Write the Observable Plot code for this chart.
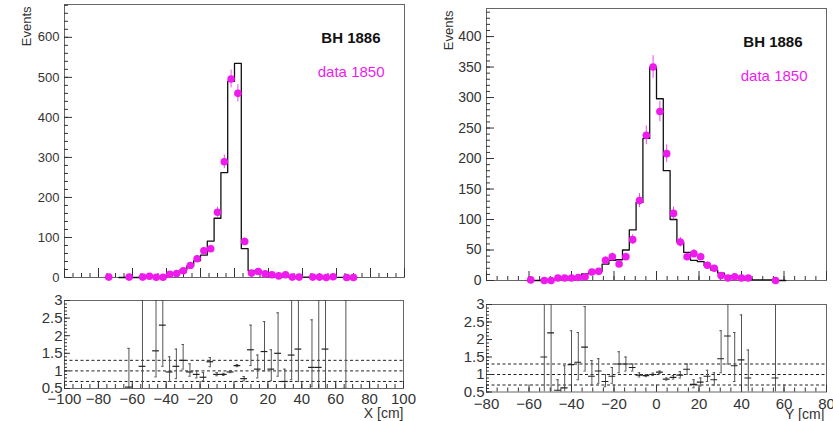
<!DOCTYPE html>
<html><head><meta charset="utf-8">
<script src="https://cdn.jsdelivr.net/npm/d3@7"></script>
<script src="https://cdn.jsdelivr.net/npm/@observablehq/plot@0.6"></script>
<style>
body{margin:0;background:#fff;}
#root{position:relative;width:833px;height:421px;overflow:hidden;background:#fff;}
#root > div{position:absolute;}
svg{overflow:visible;}
</style></head><body><div id="root"></div>
<script>
// ---------- LEFT (X) ----------
const xDataCenters = [-74,-62,-54,-50,-46,-42,-38,-34,-30,-26,-22,-18,-14,-10,-6,-2,2,6,10,14,18,22,26,30,34,38,46,50,54,58,66,70];
const xDataValues  = [1,1,1,3,0.5,0.5,8,10,17,30,47,67,72,163,289,496,460,90,11,15,9,7,4,7,1,1,1,1,0,2,0,0];
const xMcCenters = [-66,-62,-58,-54,-50,-46,-42,-38,-34,-30,-26,-22,-18,-14,-10,-6,-2,2,6,10,14,18,22,26,30,34,38,42,46,50,54,58,62,66,70];
const xMcValues  = [0,0.5,0,1.2,2,1,1,8,11,20,29,42,56,91,148,262,490,535,72,17,15,13,8,6,5,2,2,1,1.5,1.2,1,1,0.5,0.5,0];
const xRatioCenters = [-62,-54,-46,-42,-38,-34,-30,-26,-22,-18,-14,-10,-6,-2,2,6,10,14,18,22,26,30,34,38,46,50,54,66];
const xRatioValues  = [0.54,1.13,1.57,2.3,0.97,1.13,1.3,0.97,0.9,0.82,1.26,0.9,0.9,0.97,1.15,0.78,1.6,1.05,1.55,1.05,1.5,0.7,1.45,1.62,1.1,1.1,1.62,0.5];
const xRatioLow     = [0.5,0.5,0.83,1.13,0.7,0.78,1.05,0.85,0.8,0.72,1.12,0.86,0.87,0.95,1.12,0.72,1.15,0.8,1.0,0.72,0.85,0.5,0.75,0.7,0.55,0.5,0.5,0.5];
const xRatioHigh    = [1.64,3,3,3,1.4,1.62,1.75,1.2,1.0,0.95,1.38,0.95,0.93,1.0,1.18,0.84,2.3,1.45,2.4,1.6,2.65,1.05,3,3,2.45,3,3,3];
const xBinWidth = 4;

// ---------- RIGHT (Y) ----------
const yDataCenters = [-59.2,-52.8,-49.6,-46.4,-43.2,-40,-36.8,-33.6,-30.4,-27.2,-24,-20.8,-17.6,-14.4,-11.2,-8,-4.8,-1.6,1.6,4.8,8,11.2,14.4,17.6,20.8,24,27.2,30.4,33.6,36.8,40,43.2,56];
const yDataValues  = [1,0,0,4,4,4,5,6,14,15,33,39,27,39,67,131,238,350,277,208,110,63,39,44,39,25,20,8,4,6,4,4,0];
const yMcCenters = [-59.2,-56,-52.8,-49.6,-46.4,-43.2,-40,-36.8,-33.6,-30.4,-27.2,-24,-20.8,-17.6,-14.4,-11.2,-8,-4.8,-1.6,1.6,4.8,8,11.2,14.4,17.6,20.8,24,27.2,30.4,33.6,36.8,40,43.2,46.4,49.6,52.8,56,59.2];
const yMcValues  = [0,0,1,2,2,2.5,5,6.5,11,13,15,27,33,34,50,83,128,233,350,298,180,100,63,46,33,31,24,17,12,8,7,5.5,3.5,1,1,1,0.5,0];
const yRatioCenters = [-52.8,-49.6,-46.4,-43.2,-40,-36.8,-33.6,-30.4,-27.2,-24,-20.8,-17.6,-14.4,-11.2,-8,-4.8,-1.6,1.6,4.8,8,11.2,14.4,17.6,20.8,24,27.2,30.4,33.6,36.8,40,43.2,56];
const yRatioValues  = [1.5,2.19,0.55,0.62,1.28,1.35,1.78,0.95,1.1,0.8,0.95,1.3,1.3,1.2,0.98,0.97,1.0,1.07,0.87,0.92,0.98,1.15,0.72,0.78,0.95,0.85,1.45,2.1,1.25,1.42,0.9,0.9];
const yRatioLow     = [0.5,0.5,0.5,0.5,0.5,0.85,1.1,0.7,0.75,0.65,0.75,1.05,1.1,1.1,0.93,0.94,0.97,1.03,0.84,0.87,0.9,1.0,0.62,0.67,0.8,0.7,1.05,1.3,0.8,0.5,0.5,0.5];
const yRatioHigh    = [3,3,0.85,1.25,2.25,2.2,2.94,1.4,1.45,1.0,1.2,1.65,1.5,1.3,1.05,1.0,1.04,1.1,0.9,0.97,1.08,1.3,0.85,0.9,1.12,1.05,2.25,3,2.2,2.7,1.7,3];
const yBinWidth = 3.2;

// labels / guides
const legendMc = "BH 1886";
const legendData = "data 1850";
const yTitle = "Events";
const xTitleLeft = "X [cm]";
const xTitleRight = "Y [cm]";
const ratioGuides = [0.7, 1, 1.3];
const ratioTicks = [0.5, 1, 1.5, 2, 2.5, 3];

const FONT = "Liberation Sans, Arial, Helvetica, sans-serif";
const MAG = "#ee1aee";
const INK = "#222";

function stepTable(centers, vals, w) {
  const pts = [{x: centers[0] - w / 2, y: 0}];
  centers.forEach((c, i) => { pts.push({x: c - w / 2, y: vals[i]}); pts.push({x: c + w / 2, y: vals[i]}); });
  pts.push({x: centers[centers.length - 1] + w / 2, y: 0});
  return pts;
}
function place(el, left, top) {
  const d = document.createElement("div");
  d.style.left = left + "px"; d.style.top = top + "px";
  d.appendChild(el); document.getElementById("root").appendChild(d);
}

function topPanel(o) {
  const dataT = o.dc.map((c, i) => ({x: c, v: o.dv[i]}));
  return Plot.plot({
    width: o.width, height: o.height,
    marginLeft: o.ml, marginRight: o.mr, marginTop: o.mt, marginBottom: o.mb,
    x: {domain: o.xDomain}, y: {domain: o.yDomain},
    style: {fontFamily: FONT, background: "transparent", color: INK, overflow: "visible"},
    marks: [
      Plot.frame({stroke: "#666"}),
      Plot.axisX(o.xMinor, {tickSize: -4, tickFormat: () => "", label: null, stroke: "#333"}),
      Plot.axisX(o.xMajor, {tickSize: -9, tickFormat: () => "", label: null, stroke: "#333"}),
      Plot.axisY(o.yMinor, {tickSize: -4, tickFormat: () => "", label: null, stroke: "#333"}),
      Plot.axisY(o.yMajor, {tickSize: -8, tickFormat: () => "", label: null, stroke: "#333"}),
      Plot.axisY(o.yMajor, {tickSize: 0, tickPadding: 5, fontSize: o.fs, label: null, fill: "#333", tickFormat: d => String(d)}),
      Plot.line(stepTable(o.mc, o.mv, o.w), {x: "x", y: "y", stroke: "#111", strokeWidth: 1.3}),
      Plot.ruleX(dataT, {x: "x", y1: d => d.v - Math.sqrt(d.v), y2: d => d.v + Math.sqrt(d.v), stroke: MAG, strokeWidth: 1, strokeOpacity: 0.8}),
      Plot.dot(dataT, {x: "x", y: "v", r: 3.8, fill: MAG, stroke: null}),
      Plot.text([legendMc], {frameAnchor: "top-right", textAnchor: "end", lineAnchor: "middle", dx: -24, dy: o.bdy, fontSize: 15, fontWeight: "bold", fill: "#111"}),
      Plot.text([legendData], {frameAnchor: "top-right", textAnchor: "end", lineAnchor: "middle", dx: o.ddx, dy: o.bdy + 34, fontSize: 15, fill: MAG}),
      Plot.text([yTitle], {frameAnchor: "top-left", textAnchor: "end", lineAnchor: "middle", rotate: -90, dx: o.tdx, dy: o.tdy, fontSize: 13, fill: "#333"})
    ]
  });
}

function ratioPanel(o) {
  const t = o.rc.map((c, i) => ({x: c, r: o.rv[i], lo: o.rl[i], hi: o.rh[i]}));
  const hw = o.w / 2, cw = o.w * 0.18;
  return Plot.plot({
    width: o.width, height: o.height,
    marginLeft: o.ml, marginRight: o.mr, marginTop: o.mt, marginBottom: o.mb,
    x: {domain: o.xDomain}, y: {domain: [0.5, 3]},
    style: {fontFamily: FONT, background: "transparent", color: INK, overflow: "visible"},
    marks: [
      Plot.frame({stroke: "#666"}),
      Plot.ruleY(ratioGuides, {stroke: "#222", strokeDasharray: "3,2.5", strokeWidth: 1}),
      Plot.ruleX(t, {x: "x", y1: "lo", y2: "hi", stroke: "#555", strokeWidth: 1, clip: true}),
      Plot.ruleY(t, {y: "r", x1: d => d.x - hw, x2: d => d.x + hw, stroke: "#222", strokeWidth: 1.2, clip: true}),
      Plot.ruleY(t, {y: "lo", x1: d => d.x - cw, x2: d => d.x + cw, stroke: "#555", clip: true}),
      Plot.ruleY(t, {y: "hi", x1: d => d.x - cw, x2: d => d.x + cw, stroke: "#555", clip: true}),
      Plot.axisX(o.xMinor, {tickSize: -4, tickFormat: () => "", label: null, stroke: "#333"}),
      Plot.axisX(o.xMajor, {tickSize: -7, tickFormat: () => "", label: null, stroke: "#333"}),
      Plot.axisX(o.xMajor, {tickSize: 0, tickPadding: o.xpad, fontSize: 15, label: null, fill: "#333"}),
      Plot.axisY(d3.range(0.5, 3.01, 0.1), {tickSize: -3, tickFormat: () => "", label: null, stroke: "#333"}),
      Plot.axisY(ratioTicks, {tickSize: -6, tickFormat: () => "", label: null, stroke: "#333"}),
      Plot.axisY(ratioTicks, {tickSize: 0, tickPadding: 2, fontSize: 15, label: null, fill: "#333", tickFormat: d => String(d)}),
      Plot.text([o.title], {frameAnchor: "bottom-right", textAnchor: "end", lineAnchor: "middle", dx: o.tdx, dy: o.tdy, fontSize: 14, fill: "#333"})
    ]
  });
}

place(topPanel({
  width: 420, height: 290, ml: 64, mr: 16, mt: 4, mb: 13,
  xDomain: [-100, 100], yDomain: [0, 682],
  xMajor: d3.range(-100, 101, 20), xMinor: d3.range(-100, 101, 5),
  yMajor: d3.range(0, 601, 100), yMinor: d3.range(0, 681, 20),
  dc: xDataCenters, dv: xDataValues, mc: xMcCenters, mv: xMcValues, w: xBinWidth,
  fs: 13, ddx: -20, tdx: -38, tdy: 2, bdy: 34
}), 0, 0);

place(ratioPanel({
  width: 420, height: 131, ml: 64, mr: 17, mt: 10, mb: 33,
  xDomain: [-100, 100], xMajor: d3.range(-100, 101, 20), xMinor: d3.range(-100, 101, 5),
  rc: xRatioCenters, rv: xRatioValues, rl: xRatioLow, rh: xRatioHigh, w: xBinWidth,
  xpad: 5, title: xTitleLeft, tdx: 0, tdy: 25
}), 0, 290);

place(topPanel({
  width: 413, height: 290, ml: 66, mr: 7, mt: 8, mb: 10,
  xDomain: [-80, 80], yDomain: [0, 446],
  xMajor: d3.range(-80, 81, 20), xMinor: d3.range(-80, 81, 5),
  yMajor: d3.range(0, 401, 50), yMinor: d3.range(0, 441, 10),
  dc: yDataCenters, dv: yDataValues, mc: yMcCenters, mv: yMcValues, w: yBinWidth,
  fs: 14, ddx: -19, tdx: -38, tdy: 2, bdy: 34
}), 420, 0);

place(ratioPanel({
  width: 413, height: 131, ml: 66, mr: 7, mt: 14, mb: 29.5,
  xDomain: [-80, 80], xMajor: d3.range(-80, 81, 20), xMinor: d3.range(-80, 81, 5),
  rc: yRatioCenters, rv: yRatioValues, rl: yRatioLow, rh: yRatioHigh, w: yBinWidth,
  xpad: 6, title: xTitleRight, tdx: -2, tdy: 23
}), 420, 290);
</script></body></html>
